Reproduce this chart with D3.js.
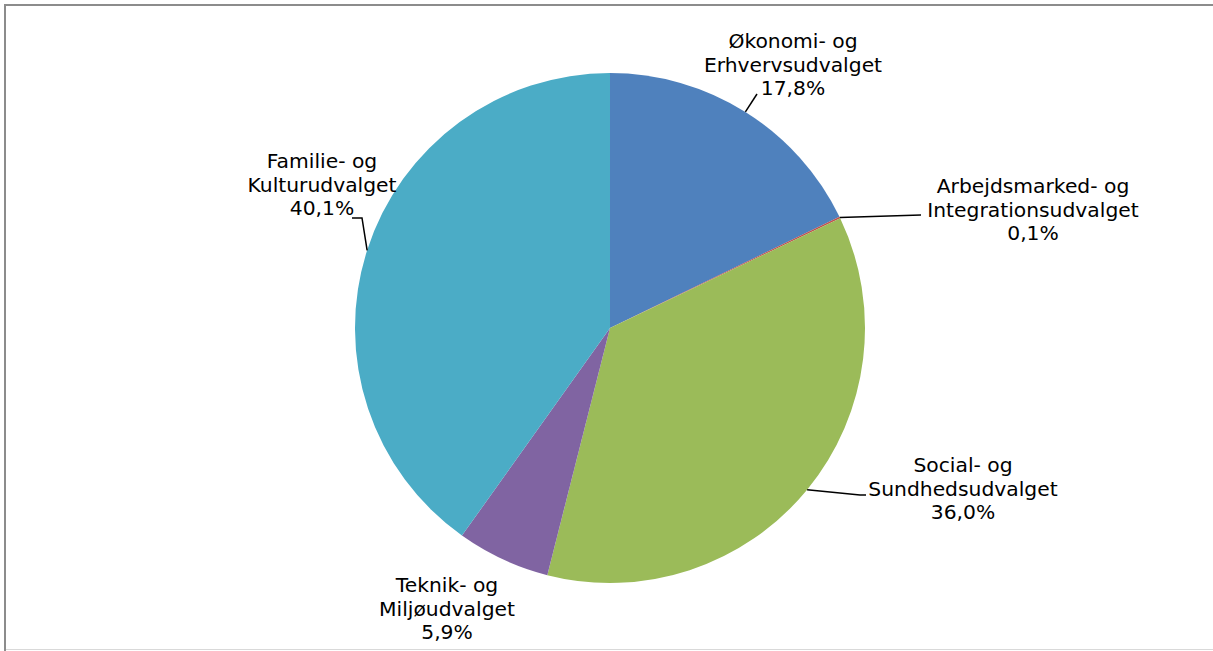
<!DOCTYPE html>
<meta charset="utf-8">
<style>
body { margin: 0; background: #fff; }
.lbl { font-family: "DejaVu Sans", Verdana, sans-serif; font-size: 20.3px; fill: #000; }
.leader { fill: none; stroke: #000; stroke-width: 1.5; }
</style>
<body>
<script src="https://cdn.jsdelivr.net/npm/d3@7"></script>
<script>
// data
var names = [
  ["Økonomi- og", "Erhvervsudvalget"],
  ["Arbejdsmarked- og", "Integrationsudvalget"],
  ["Social- og", "Sundhedsudvalget"],
  ["Teknik- og", "Miljøudvalget"],
  ["Familie- og", "Kulturudvalget"]
];
var shares = [17.8, 0.1, 36.0, 5.9, 40.1];
var colors = ["#4f81bd", "#c0504d", "#9bbb59", "#8064a2", "#4bacc6"];

// label layout: text centre x, first baseline y, leader elbow/end points
var labelPos = [
  {x: 793, y: 48, pts: [[757, 94]]},
  {x: 1033, y: 193, pts: [[921, 215]]},
  {x: 963, y: 472, pts: [[860, 495], [866, 495]]},
  {x: 447, y: 592, pts: null},
  {x: 322, y: 168, pts: [[362, 218], [352, 218]]}
];

var W = 1213, H = 651, cx = 610, cy = 328, r = 255;

var svg = d3.select("body").append("svg")
    .attr("width", W)
    .attr("height", H);

// frame
svg.append("line").attr("x1", 5).attr("x2", W).attr("y1", 5).attr("y2", 5)
    .attr("stroke", "#8c8c8c").attr("stroke-width", 2);
svg.append("line").attr("x1", 5).attr("x2", 5).attr("y1", 4).attr("y2", H)
    .attr("stroke", "#8c8c8c").attr("stroke-width", 2);
svg.append("line").attr("x1", 6).attr("x2", W).attr("y1", 649.5).attr("y2", 649.5)
    .attr("stroke", "#d9d9d9").attr("stroke-width", 1);

var data = shares.map(function(v, i) { return {name: names[i], value: v, i: i}; });

var pie = d3.pie().sort(null).value(function(d) { return d.value; });
var arc = d3.arc().innerRadius(0).outerRadius(r);
var arcs = pie(data);

var g = svg.append("g").attr("transform", "translate(" + cx + "," + cy + ")");

g.selectAll("path.slice")
    .data(arcs)
  .enter().append("path")
    .attr("class", "slice")
    .attr("d", arc)
    .attr("fill", function(d) { return colors[d.data.i]; });

// leader lines
arcs.forEach(function(d) {
  var lp = labelPos[d.data.i];
  if (!lp.pts) return;
  var mid = (d.startAngle + d.endAngle) / 2;
  var start = [cx + r * Math.sin(mid), cy - r * Math.cos(mid)];
  svg.append("path")
      .attr("class", "leader")
      .attr("d", d3.line()([start].concat(lp.pts)));
});

// labels
var fmt = function(v) { return d3.format(".1f")(v).replace(".", ",") + "%"; };
data.forEach(function(d) {
  var lp = labelPos[d.i];
  var t = svg.append("text")
      .attr("class", "lbl")
      .attr("text-anchor", "middle")
      .attr("x", lp.x)
      .attr("y", lp.y);
  var lines = d.name.concat([fmt(d.value)]);
  lines.forEach(function(s, k) {
    t.append("tspan").attr("x", lp.x).attr("dy", k === 0 ? 0 : 23.5).text(s);
  });
});
</script>
</body>
